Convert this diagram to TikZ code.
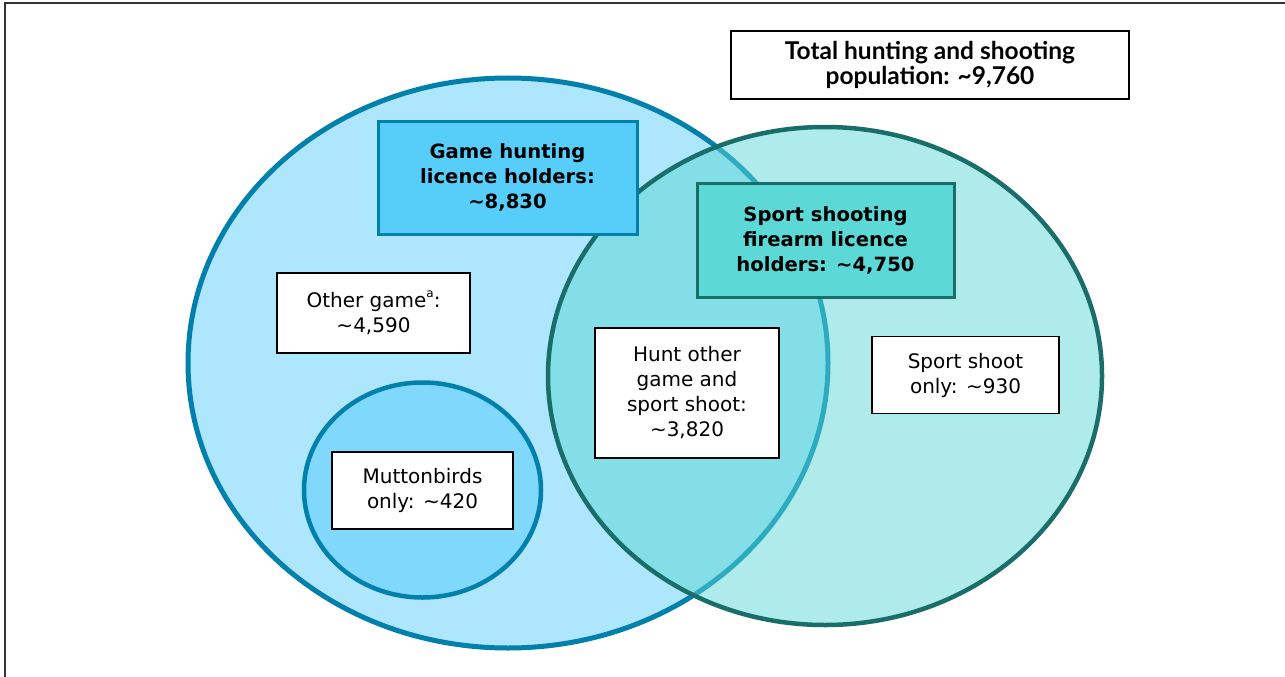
\documentclass[tikz,border=0pt]{standalone}
\usepackage{fontspec}
\setmainfont{DejaVu Sans}
\newfontfamily\latofont{Lato}
\usetikzlibrary{shapes.geometric}
\definecolor{gameblue}{HTML}{0080AA}
\definecolor{gamefill}{HTML}{ADE6FD}
\definecolor{muttonfill}{HTML}{80D9FC}
\definecolor{gameboxfill}{HTML}{57CEFA}
\definecolor{sportteal}{HTML}{1A6E6A}
\definecolor{sportfill}{HTML}{5DD7D5}
\definecolor{sportboxfill}{HTML}{5CD9D6}
\definecolor{framegray}{HTML}{333333}
\tikzset{
  setshape/.style={ellipse, inner sep=0pt},
  labelbox/.style={rectangle, draw=black, line width=1.6pt, fill=white, inner sep=0pt, align=center,
    font=\fontsize{20}{25}\selectfont},
  titlebox/.style={rectangle, line width=3pt, inner sep=0pt, align=center,
    font=\fontsize{19.6}{25}\selectfont\bfseries},
}
\begin{document}
\begin{tikzpicture}[x=1pt,y=-1pt]
\useasboundingbox (0,0) rectangle (1285,677);
% frame
\coordinate (frameTR) at (1285,3.5);
\coordinate (frameTL) at (4.5,3.5);
\coordinate (frameBL) at (4.5,677);
\draw[framegray, line width=2pt] (frameTR) -- (frameTL) -- (frameBL);
% sets
\node[setshape, draw=gameblue, line width=5pt, fill=gamefill, minimum width=640pt, minimum height=570pt] (game) at (508,363) {};
\node[setshape, draw=gameblue, line width=4.5pt, fill=muttonfill, minimum width=237pt, minimum height=215pt] (mutton) at (422.5,490) {};
\node[setshape, fill=sportfill, fill opacity=0.5, minimum width=554pt, minimum height=498pt] (sportfillshape) at (825,376) {};
\node[setshape, draw=sportteal, line width=4.5pt, minimum width=554pt, minimum height=498pt] (sport) at (825,376) {};
% boxes
\node[labelbox, minimum width=398pt, minimum height=68pt, font=\fontsize{24.5}{25}\selectfont\latofont\bfseries] (total) at (930,65) {Total hunting and shooting\\population: \textasciitilde9,760};
\node[titlebox, draw=gameblue, fill=gameboxfill, minimum width=259pt, minimum height=113pt] (gamebox) at (507.5,177.5) {Game hunting\\licence holders:\\\textasciitilde8,830};
\node[titlebox, draw=sportteal, fill=sportboxfill, minimum width=257pt, minimum height=114pt] (sportbox) at (825.5,240) {Sport shooting\\firearm licence\\holders: \textasciitilde4,750};
\node[labelbox, minimum width=193pt, minimum height=80pt] (other) at (373.5,313) {Other game\raisebox{0.9ex}{\fontsize{12}{12}\selectfont a}:\\\textasciitilde4,590};
\node[labelbox, minimum width=184pt, minimum height=130pt] (both) at (687,393) {Hunt other\\game and\\sport shoot:\\\textasciitilde3,820};
\node[labelbox, minimum width=187pt, minimum height=77pt] (sportonly) at (965.5,375) {Sport shoot\\only: \textasciitilde930};
\node[labelbox, minimum width=181pt, minimum height=77pt] (muttonbox) at (422.5,490.5) {Muttonbirds\\only: \textasciitilde420};
\end{tikzpicture}
\end{document}
